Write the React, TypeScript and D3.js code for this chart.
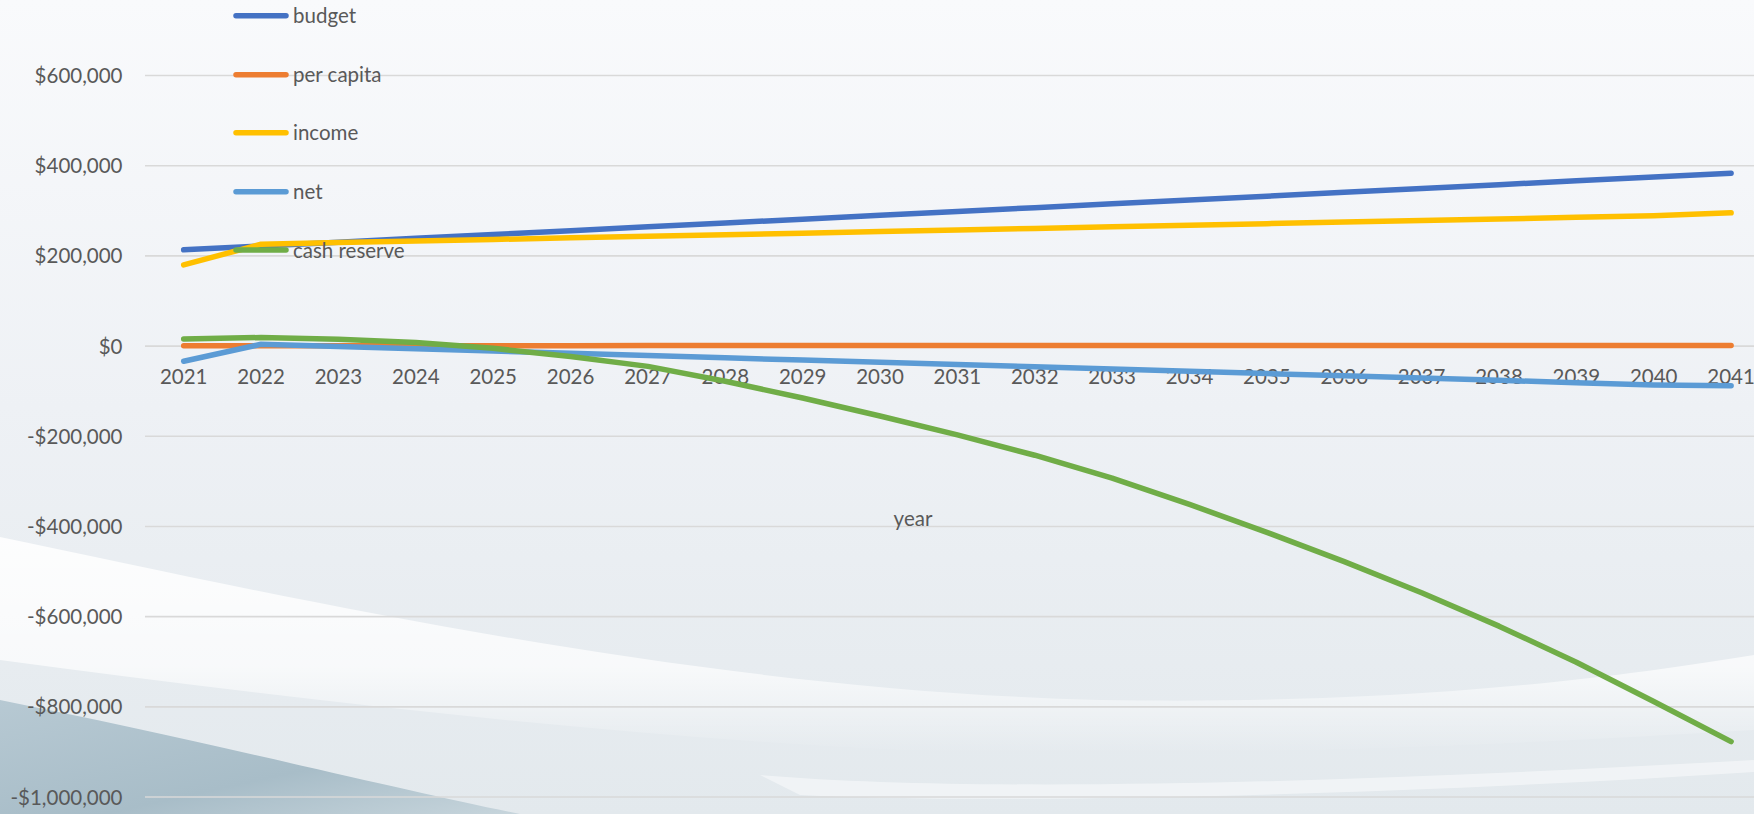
import React from "react";
import * as d3 from "d3";

const years = ["2021","2022","2023","2024","2025","2026","2027","2028","2029","2030","2031","2032","2033","2034","2035","2036","2037","2038","2039","2040","2041"];

const budget = [213500, 222000, 230500, 239000, 247500, 256000, 264500, 273000, 281500, 290000, 298500, 307000, 315500, 324000, 332500, 341000, 349500, 358000, 366500, 375000, 383500];
const perCapita = [1000, 1010, 1020, 1030, 1040, 1050, 1060, 1070, 1080, 1090, 1100, 1110, 1120, 1130, 1140, 1150, 1160, 1170, 1180, 1190, 1200];
const income = [180000, 226000, 229500, 233000, 236500, 240000, 243500, 247000, 250500, 254000, 257500, 261000, 264500, 268000, 271500, 275000, 278500, 282000, 285500, 289000, 295500];
const net = [-33500, 4000, -1000, -6000, -11000, -16000, -21000, -26000, -31000, -36000, -41000, -46000, -51000, -56000, -61000, -66000, -71000, -76000, -81000, -86000, -88000];
const cashReserve = [16000, 19000, 15000, 8000, -5000, -23000, -45000, -78000, -115000, -155000, -197000, -242000, -293000, -351000, -413000, -478000, -547000, -621000, -701000, -788000, -877000];

const yTicks = [-1000000, -800000, -600000, -400000, -200000, 0, 200000, 400000, 600000];

const seriesNames = ["budget", "per capita", "income", "net", "cash reserve"];
const seriesColors = ["#4472C4", "#ED7D31", "#FFC000", "#5B9BD5", "#70AD47"];

const W = 1754;
const H = 814;
const FONT = "Lato, 'Open Sans', 'Liberation Sans', sans-serif";

export default function App() {
  const data = [budget, perCapita, income, net, cashReserve];
  const x = d3.scalePoint<string>().domain(years).range([145, 1769.8]).padding(0.5);
  const y = d3.scaleLinear().domain([-1000000, 800000]).range([797.05, -14.66]);
  const line = d3
    .line<number>()
    .x((_, i) => x(years[i]) as number)
    .y((d) => y(d));

  const fmt = (v: number) => {
    const s = d3.format(",")(Math.abs(v));
    return (v < 0 ? "-$" : "$") + s;
  };

  const legendY = [15.7, 74.8, 132.7, 191.7, 250];

  return (
    <svg
      width={W}
      height={H}
      style={{ position: "absolute", left: 0, top: 0, display: "block" }}
      fontFamily={FONT}
    >
      <defs>
        <linearGradient id="bg" x1="0" y1="0" x2="0" y2="1">
          <stop offset="0" stopColor="#f9fafc" />
          <stop offset="0.5" stopColor="#eef1f5" />
          <stop offset="1" stopColor="#e3e9ed" />
        </linearGradient>
        <linearGradient id="dark" x1="0" y1="0" x2="1" y2="1">
          <stop offset="0" stopColor="#b7c9d3" />
          <stop offset="0.6" stopColor="#a8bdc8" />
          <stop offset="1" stopColor="#c7d5dc" />
        </linearGradient>
        <linearGradient id="white" x1="0" y1="0" x2="0" y2="1">
          <stop offset="0" stopColor="#ffffff" stopOpacity="0.9" />
          <stop offset="0.6" stopColor="#ffffff" stopOpacity="0.7" />
          <stop offset="1" stopColor="#ffffff" stopOpacity="0" />
        </linearGradient>
      </defs>
      <rect x={0} y={0} width={W} height={H} fill="url(#bg)" />
      {/* background swooshes */}
      <path
        d="M0,537 C300,600 700,690 1100,700 C1400,705 1600,680 1754,655 L1754,730 C1500,745 1200,760 900,750 C600,735 300,700 0,660 Z"
        fill="url(#white)"
      />
      <path
        d="M0,700 C200,740 400,790 520,814 L0,814 Z"
        fill="url(#dark)"
      />
      <path
        d="M760,775 C1000,795 1400,780 1754,760 L1754,772 C1400,795 1000,805 800,795 Z"
        fill="#ffffff"
        opacity={0.45}
      />

      {/* gridlines */}
      {yTicks.map((t) => (
        <line
          key={t}
          x1={145}
          x2={1770}
          y1={y(t)}
          y2={y(t)}
          stroke="#d9d9d9"
          strokeWidth={1.6}
        />
      ))}

      {/* y labels */}
      {yTicks.map((t) => (
        <text
          key={"l" + t}
          x={122.5}
          y={y(t) + 7.5}
          textAnchor="end"
          fontSize={20.5}
          fill="#595959"
        >
          {fmt(t)}
        </text>
      ))}

      {/* x labels */}
      {years.map((yr) => (
        <text
          key={yr}
          x={x(yr) as number}
          y={384.3}
          textAnchor="middle"
          fontSize={20.5}
          fill="#595959"
        >
          {yr}
        </text>
      ))}

      <text x={913} y={526} textAnchor="middle" fontSize={20.5} fill="#595959">
        year
      </text>

      {/* series */}
      {data.map((s, i) => (
        <path
          key={seriesNames[i]}
          d={line(s) || ""}
          fill="none"
          stroke={seriesColors[i]}
          strokeWidth={5.5}
          strokeLinecap="round"
          strokeLinejoin="round"
        />
      ))}

      {/* legend */}
      {seriesNames.map((n, i) => (
        <g key={"lg" + n}>
          <line
            x1={236}
            x2={286}
            y1={legendY[i]}
            y2={legendY[i]}
            stroke={seriesColors[i]}
            strokeWidth={5.5}
            strokeLinecap="round"
          />
          <text x={293} y={legendY[i] + 7.5} fontSize={20.5} fill="#595959">
            {n}
          </text>
        </g>
      ))}
    </svg>
  );
}
